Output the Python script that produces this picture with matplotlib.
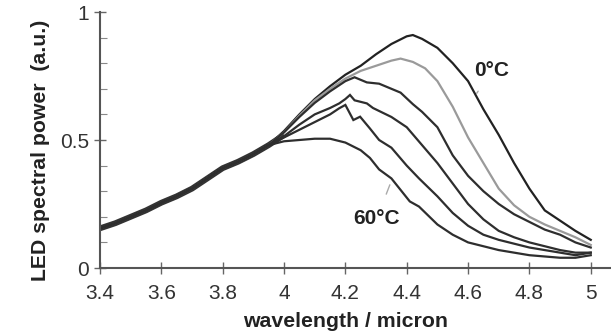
import matplotlib
matplotlib.use("Agg")
import matplotlib.pyplot as plt
from matplotlib.ticker import MultipleLocator

plt.rcParams['font.family'] = ['Liberation Sans', 'DejaVu Sans']

# Shared rising edge (all curves overlap here)
rise_x = [3.40, 3.45, 3.50, 3.55, 3.60, 3.65, 3.70, 3.75, 3.80, 3.85, 3.90, 3.95]
rise_y = [0.155, 0.175, 0.200, 0.225, 0.255, 0.280, 0.310, 0.350, 0.390, 0.415, 0.445, 0.480]

# Individual curves beyond the divergence point (0 degC ... 60 degC)
c0_x = [4.00, 4.05, 4.10, 4.15, 4.20, 4.25, 4.30, 4.35, 4.40, 4.42, 4.45, 4.50, 4.55, 4.60,
        4.65, 4.70, 4.75, 4.80, 4.85, 4.90, 4.95, 5.00]
c0_y = [0.535, 0.600, 0.660, 0.710, 0.755, 0.790, 0.835, 0.875, 0.905, 0.910, 0.895, 0.860,
        0.800, 0.730, 0.620, 0.520, 0.410, 0.310, 0.225, 0.185, 0.145, 0.110]

c1_x = [4.00, 4.05, 4.10, 4.15, 4.20, 4.25, 4.30, 4.35, 4.38, 4.42, 4.46, 4.50, 4.55, 4.60,
        4.65, 4.70, 4.75, 4.80, 4.85, 4.90, 4.95, 5.00]
c1_y = [0.530, 0.595, 0.655, 0.700, 0.740, 0.770, 0.790, 0.810, 0.818, 0.805, 0.780, 0.730,
        0.630, 0.510, 0.410, 0.310, 0.245, 0.200, 0.170, 0.145, 0.120, 0.090]

c2_x = [4.00, 4.05, 4.10, 4.15, 4.20, 4.23, 4.27, 4.31, 4.35, 4.38, 4.42, 4.45, 4.50, 4.55,
        4.60, 4.65, 4.70, 4.75, 4.80, 4.85, 4.90, 4.95, 5.00]
c2_y = [0.530, 0.590, 0.645, 0.690, 0.730, 0.745, 0.725, 0.720, 0.700, 0.685, 0.640, 0.610,
        0.550, 0.440, 0.360, 0.300, 0.250, 0.210, 0.180, 0.150, 0.130, 0.100, 0.080]

c3_x = [4.00, 4.05, 4.10, 4.15, 4.18, 4.20, 4.215, 4.23, 4.27, 4.29, 4.35, 4.40, 4.45, 4.50,
        4.55, 4.60, 4.65, 4.70, 4.75, 4.80, 4.85, 4.90, 4.95, 5.00]
c3_y = [0.515, 0.560, 0.600, 0.625, 0.643, 0.660, 0.676, 0.655, 0.643, 0.625, 0.590, 0.550,
        0.480, 0.410, 0.330, 0.250, 0.190, 0.145, 0.120, 0.100, 0.085, 0.070, 0.060, 0.060]

c4_x = [4.00, 4.05, 4.10, 4.15, 4.18, 4.20, 4.226, 4.248, 4.28, 4.31, 4.35, 4.40, 4.44, 4.50,
        4.55, 4.60, 4.65, 4.70, 4.75, 4.80, 4.85, 4.90, 4.95, 5.00]
c4_y = [0.510, 0.540, 0.570, 0.600, 0.624, 0.637, 0.578, 0.591, 0.545, 0.500, 0.470, 0.400,
        0.350, 0.280, 0.215, 0.165, 0.130, 0.110, 0.095, 0.080, 0.070, 0.060, 0.050, 0.060]

c5_x = [4.00, 4.05, 4.10, 4.15, 4.20, 4.25, 4.28, 4.31, 4.35, 4.41, 4.44, 4.50, 4.55, 4.60,
        4.65, 4.70, 4.75, 4.80, 4.85, 4.90, 4.95, 5.00]
c5_y = [0.495, 0.500, 0.505, 0.505, 0.490, 0.460, 0.430, 0.385, 0.350, 0.260, 0.240, 0.170,
        0.130, 0.100, 0.085, 0.070, 0.060, 0.050, 0.045, 0.040, 0.040, 0.050]

curves_x = [c0_x, c1_x, c2_x, c3_x, c4_x, c5_x]
curves_y = [c0_y, c1_y, c2_y, c3_y, c4_y, c5_y]
curve_colors = ['#222222', '#9a9a9a', '#2e2e2e', '#2e2e2e', '#2e2e2e', '#2e2e2e']

x_ticks = [3.4, 3.6, 3.8, 4.0, 4.2, 4.4, 4.6, 4.8, 5.0]
x_tick_labels = ['3.4', '3.6', '3.8', '4', '4.2', '4.4', '4.6', '4.8', '5']
y_ticks = [0, 0.5, 1]
y_tick_labels = ['0', '0.5', '1']

W, H = 611, 335
fig = plt.figure(figsize=(W / 100, H / 100), dpi=100)
ax = fig.add_axes([100 / W, 1 - 268 / H, (W - 100) / W, (268 - 12) / H])

# overlapping noisy band of the common rising edge
ax.plot(rise_x + [4.0], rise_y + [0.52], color='#333333', lw=4.2, solid_capstyle='butt')
for xs, ys, col in zip(curves_x, curves_y, curve_colors):
    ax.plot(rise_x + xs, rise_y + ys, color=col, lw=1.6, solid_joinstyle='miter')

ax.set_xlim(3.4, 5.066)
ax.set_ylim(0, 1)

for s in ['top', 'right']:
    ax.spines[s].set_visible(False)
for s in ['left', 'bottom']:
    ax.spines[s].set_color('#555555')
    ax.spines[s].set_linewidth(1.5)

ax.set_xticks(x_ticks)
ax.set_xticklabels(x_tick_labels)
ax.set_yticks(y_ticks)
ax.set_yticklabels(y_tick_labels)
ax.yaxis.set_minor_locator(MultipleLocator(0.1))
ax.tick_params(axis='x', direction='inout', length=9, width=1.0, color='#666666',
               labelsize=15, pad=7, labelcolor='#333333')
ax.tick_params(axis='y', which='major', direction='inout', length=8, width=1.0,
               color='#666666', labelsize=15, pad=4, labelcolor='#333333')
ax.tick_params(axis='y', which='minor', direction='in', length=5, width=0.8, color='#888888')

ax.set_xlabel('wavelength / micron', fontsize=15.3, fontweight='bold', color='#222222')
ax.set_ylabel('LED spectral power  (a.u.)', fontsize=15.3, fontweight='bold', color='#222222')
ax.xaxis.set_label_coords((346 - 100) / 511, -(312 - 268) / 256)
ax.yaxis.set_label_coords((50 - 100) / 511, (268 - 150) / 256)

# annotations
ax.annotate('0°C', xy=(4.628, 0.682), xytext=(4.678, 0.77), fontsize=15, fontweight='bold',
            color='#222222', ha='center', va='center',
            arrowprops=dict(arrowstyle='-', color='#aaaaaa', lw=1.0, shrinkA=7, shrinkB=0))
ax.annotate('60°C', xy=(4.345, 0.325), xytext=(4.303, 0.195), fontsize=15, fontweight='bold',
            color='#222222', ha='center', va='center',
            arrowprops=dict(arrowstyle='-', color='#aaaaaa', lw=1.0, shrinkA=9, shrinkB=0))

fig.savefig('out.png', dpi=100)
